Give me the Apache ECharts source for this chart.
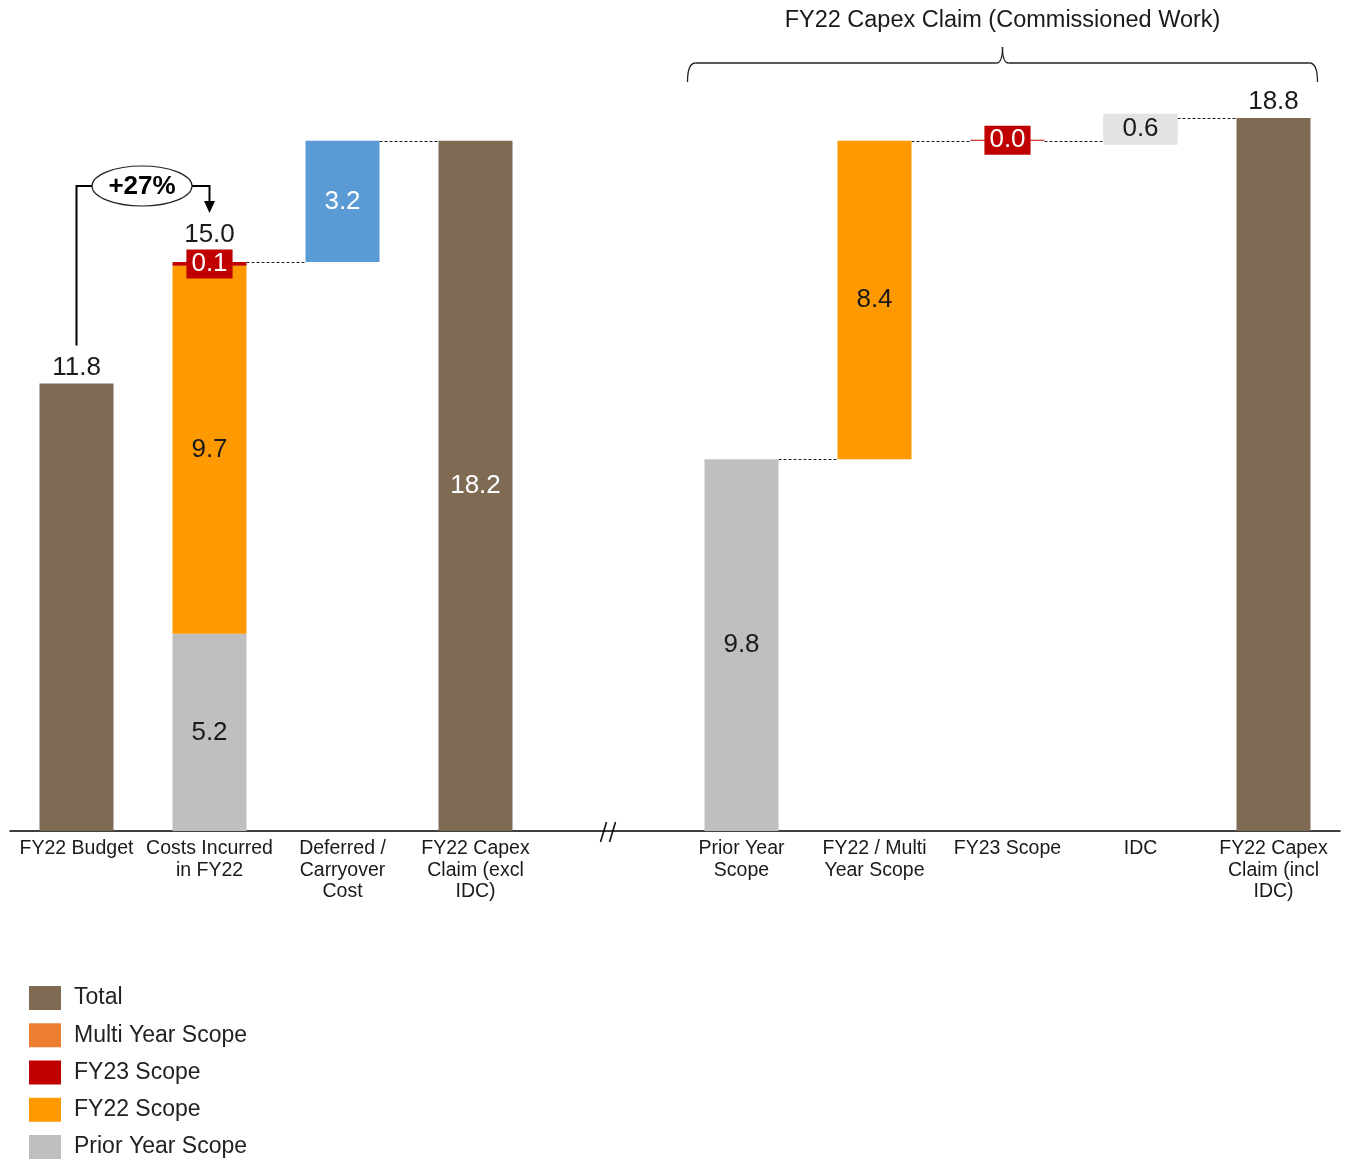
<!DOCTYPE html>
<html>
<head>
<meta charset="utf-8">
<title>FY22 Capex Claim</title>
<script src="https://cdn.jsdelivr.net/npm/echarts@6/dist/echarts.min.js"></script>
<style>
  html, body { margin: 0; padding: 0; background: #ffffff; }
  #chart { width: 1350px; height: 1162px; }
</style>
</head>
<body>
<div id="chart"></div>
<script>
// Category labels (empty slot = axis break)
const categories = [
  'FY22 Budget',
  'Costs Incurred\nin FY22',
  'Deferred /\nCarryover\nCost',
  'FY22 Capex\nClaim (excl\nIDC)',
  '',
  'Prior Year\nScope',
  'FY22 / Multi\nYear Scope',
  'FY23 Scope',
  'IDC',
  'FY22 Capex\nClaim (incl\nIDC)'
];

// Series values ($m)
const totalVals      = [11.8, '-', '-', 18.2, '-', '-', '-', '-', '-', 18.8];
const priorYearVals  = ['-', 5.2, '-', '-', '-', 9.8, '-', '-', '-', '-'];
const fy22Vals       = ['-', 9.7, '-', '-', '-', '-', 8.4, '-', '-', '-'];
const fy23Vals       = ['-', 0.1, '-', '-', '-', '-', '-', 0.0, '-', '-'];
const multiYearVals  = ['-', '-', '-', '-', '-', '-', '-', '-', '-', '-'];
const deferredVals   = ['-', '-', 3.2, '-', '-', '-', '-', '-', '-', '-'];
const idcVals        = ['-', '-', '-', '-', '-', '-', '-', '-', 0.6, '-'];
const stackTotalVals = ['-', 15.0, '-', '-', '-', '-', '-', '-', '-', '-'];

// Waterfall structure: which steps start from zero, which steps are joined by a dashed connector
const restartsAtZero = [true, true, false, true, true, true, false, false, false, true];
const connectors = [[1, 2], [2, 3], [5, 6], [6, 7], [7, 8], [8, 9]];

const FONT = '"Liberation Sans", Arial, Helvetica, sans-serif';
const C = {
  total: '#7F6A54',
  multi: '#ED7D31',
  fy23: '#C00000',
  fy22: '#FF9900',
  prior: '#BFBFBF',
  deferred: '#5B9BD5',
  idc: '#E0E0E0',
  text: '#1a1a1a'
};
const BAR_W = 74;
const VAL_FS = 26;

// Invisible base under floating steps, and the level reached after each column
const num = v => (v === '-' ? 0 : v);
const stepVals = categories.map((_, i) =>
  num(priorYearVals[i]) + num(fy22Vals[i]) + num(fy23Vals[i]) + num(deferredVals[i]) + num(idcVals[i]));
const baseVals = [];
const topVals = [];
let level = 0;
categories.forEach((_, i) => {
  if (totalVals[i] !== '-') {
    baseVals.push(0);
    level = totalVals[i];
  } else {
    const b = restartsAtZero[i] ? 0 : level;
    baseVals.push(b);
    level = b + stepVals[i];
  }
  topVals.push(level);
});

// zero-height cap on stacked columns that carries the column total label
const stackCapVals = stackTotalVals.map(v => (v === '-' ? '-' : 0));

const fmt = p => Number(p.value).toFixed(1);
const lbl = extra => Object.assign({
  show: true, position: 'inside', fontSize: VAL_FS, fontFamily: FONT,
  color: C.text, formatter: fmt
}, extra || {});

const barSeries = (name, data, color, label, extra) => Object.assign({
  name, type: 'bar', stack: 'waterfall', data, barWidth: BAR_W,
  itemStyle: { color }, label, emphasis: { disabled: true }, animation: false
}, extra || {});

const chart = echarts.init(document.getElementById('chart'), null, { renderer: 'canvas' });

chart.setOption({
  animation: false,
  grid: { left: 10, right: 10, top: 72.4, bottom: 331 },
  legend: {
    data: ['Total', 'Multi Year Scope', 'FY23 Scope', 'FY22 Scope', 'Prior Year Scope'],
    orient: 'vertical',
    left: 29,
    top: 986,
    padding: 0,
    icon: 'rect',
    itemWidth: 32,
    itemHeight: 24,
    itemGap: 13.25,
    selectedMode: false,
    textStyle: { fontSize: 23, fontFamily: FONT, color: '#222', lineHeight: 21, padding: [3, 0, 0, 8] }
  },
  xAxis: {
    type: 'category',
    data: categories,
    axisTick: { show: false },
    axisLine: { lineStyle: { color: '#000', width: 1.5 } },
    axisLabel: {
      interval: 0, fontSize: 19.5, lineHeight: 21.5, fontFamily: FONT,
      color: C.text, margin: 7
    }
  },
  yAxis: { type: 'value', min: 0, max: 20, show: false },
  series: [
    barSeries('base', baseVals, 'transparent', { show: false }, { silent: true }),
    barSeries('Prior Year Scope', priorYearVals, C.prior, lbl()),
    barSeries('FY22 Scope', fy22Vals, C.fy22, lbl()),
    barSeries('FY23 Scope', fy23Vals, C.fy23,
      lbl({ color: '#fff', backgroundColor: C.fy23, padding: [2, 5], lineHeight: 25 }),
      { barMinHeight: 1 }),
    barSeries('Deferred / Carryover Cost', deferredVals, C.deferred, lbl({ color: '#fff' })),
    barSeries('IDC', idcVals, C.idc,
      lbl({ backgroundColor: '#E3E3E3', padding: [3, 19], lineHeight: 25 })),
    barSeries('Total',
      totalVals.map((v, i) => (v !== '-' && i === 3)
        ? { value: v, label: { position: 'inside', color: '#fff' } } : v),
      C.total, lbl({ position: 'top', distance: 3 })),
    barSeries('Multi Year Scope', multiYearVals, C.multi, { show: false }),
    barSeries('stack total', stackCapVals, 'transparent',
      lbl({ position: 'top', distance: 14, formatter: p => Number(stackTotalVals[p.dataIndex]).toFixed(1) }),
      { silent: true })
  ]
});

// Annotations: connectors, axis break, growth call-out, bracket and its caption
function px(i, v) { return chart.convertToPixel({ gridIndex: 0 }, [i, v]); }
const half = BAR_W / 2;
const g = [];

connectors.forEach(([a, b]) => {
  const y = Math.round(px(a, topVals[a])[1]) + 0.5;
  g.push({
    type: 'line', silent: true,
    shape: { x1: px(a, 0)[0] + half, y1: y, x2: px(b, 0)[0] - half, y2: y },
    style: { stroke: '#222', lineWidth: 1, lineDash: [3, 2] }
  });
});

// axis break marks
const brk = px(4, 0);
[-5, 4].forEach(dx => {
  g.push({
    type: 'line', silent: true,
    shape: { x1: brk[0] + dx - 3, y1: brk[1] + 11, x2: brk[0] + dx + 3, y2: brk[1] - 9 },
    style: { stroke: '#111', lineWidth: 1.6 }
  });
});

// growth call-out from budget to costs incurred
const growth = Math.round((stackTotalVals[1] / totalVals[0] - 1) * 100);
const xa = px(0, 0)[0], xb = px(1, 0)[0];
const yBudgetLabel = px(0, totalVals[0])[1] - 38;
const yRow = 186;
const ellCx = 142, ellRx = 50, ellRy = 20;
g.push({
  type: 'polyline', silent: true,
  shape: { points: [[xa, yBudgetLabel], [xa, yRow], [ellCx - ellRx, yRow]] },
  style: { stroke: '#000', lineWidth: 2, fill: null }
});
g.push({
  type: 'polyline', silent: true,
  shape: { points: [[ellCx + ellRx, yRow], [xb, yRow], [xb, yRow + 17]] },
  style: { stroke: '#000', lineWidth: 2, fill: null }
});
g.push({
  type: 'polygon', silent: true,
  shape: { points: [[xb - 5.5, yRow + 15], [xb + 5.5, yRow + 15], [xb, yRow + 27]] },
  style: { fill: '#000' }
});
g.push({
  type: 'ellipse', silent: true,
  shape: { cx: ellCx, cy: yRow, rx: ellRx, ry: ellRy },
  style: { fill: '#fff', stroke: '#222', lineWidth: 1.2 }
});
g.push({
  type: 'text', silent: true, x: ellCx, y: yRow + 1,
  style: {
    text: '+' + growth + '%', fontSize: 26, fontWeight: 'bold', fontFamily: FONT,
    fill: '#000', align: 'center', verticalAlign: 'middle'
  }
});

// bracket over the commissioned-work columns
const bx1 = px(5, 0)[0] - 54, bx2 = px(9, 0)[0] + 44;
const bmid = (bx1 + bx2) / 2, by = 63, bEnd = 82, bTip = 47;
const bStyle = { stroke: '#222', lineWidth: 1.3, fill: null };
g.push({ type: 'bezierCurve', silent: true, shape: { x1: bx1, y1: bEnd, x2: bx1 + 8, y2: by, cpx1: bx1, cpy1: by }, style: bStyle });
g.push({ type: 'line', silent: true, shape: { x1: bx1 + 8, y1: by, x2: bmid - 6, y2: by }, style: bStyle });
g.push({ type: 'bezierCurve', silent: true, shape: { x1: bmid - 6, y1: by, x2: bmid, y2: bTip, cpx1: bmid, cpy1: by }, style: bStyle });
g.push({ type: 'bezierCurve', silent: true, shape: { x1: bmid, y1: bTip, x2: bmid + 6, y2: by, cpx1: bmid, cpy1: by }, style: bStyle });
g.push({ type: 'line', silent: true, shape: { x1: bmid + 6, y1: by, x2: bx2 - 8, y2: by }, style: bStyle });
g.push({ type: 'bezierCurve', silent: true, shape: { x1: bx2 - 8, y1: by, x2: bx2, y2: bEnd, cpx1: bx2, cpy1: by }, style: bStyle });
g.push({
  type: 'text', silent: true, x: bmid, y: 21,
  style: {
    text: 'FY22 Capex Claim (Commissioned Work)', fontSize: 23.5, fontFamily: FONT,
    fill: C.text, align: 'center', verticalAlign: 'middle'
  }
});

chart.setOption({ graphic: g });
</script>
</body>
</html>
